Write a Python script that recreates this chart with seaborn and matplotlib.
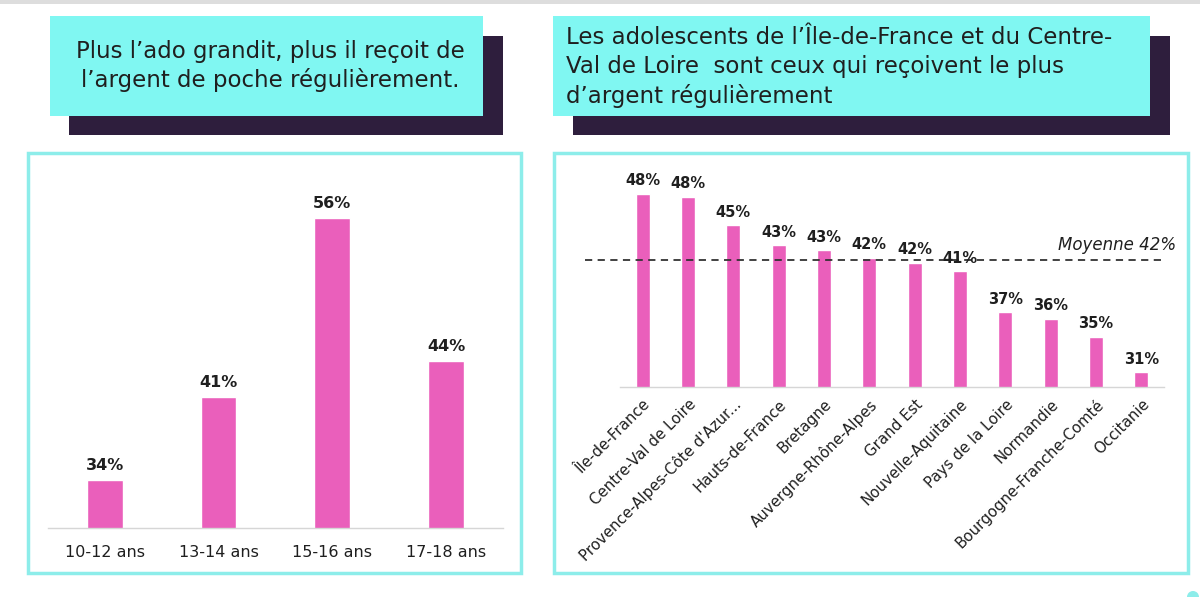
import matplotlib
matplotlib.use("Agg")
import matplotlib.pyplot as plt
import matplotlib.patches as patches
import matplotlib.transforms as mtransforms
import seaborn as sns

# Left panel: share of teens receiving pocket money regularly, by age
age_groups = ["10-12 ans", "13-14 ans", "15-16 ans", "17-18 ans"]
age_values = [34, 41, 56, 44]
age_labels = ["34%", "41%", "56%", "44%"]

# Right panel: same share by region
regions = ["Île-de-France", "Centre-Val de Loire", "Provence-Alpes-Côte d'Azur...",
           "Hauts-de-France", "Bretagne", "Auvergne-Rhône-Alpes", "Grand Est",
           "Nouvelle-Aquitaine", "Pays de la Loire", "Normandie",
           "Bourgogne-Franche-Comté", "Occitanie"]
region_values = [48.0, 47.7, 45.0, 43.1, 42.6, 41.9, 41.4, 40.6, 36.7, 36.1, 34.4, 31.0]
region_labels = ["48%", "48%", "45%", "43%", "43%", "42%", "42%", "41%", "37%", "36%", "35%", "31%"]
mean_value = 41.7
mean_label = "Moyenne 42%"

title_left = "Plus l’ado grandit, plus il reçoit de\nl’argent de poche régulièrement."
title_right = ("Les adolescents de l’Île-de-France et du Centre-\n"
               "Val de Loire  sont ceux qui reçoivent le plus\n"
               "d’argent régulièrement")

# Colours
pink = "#EA5FBB"
cyan_fill = "#80F7F2"
cyan_border = "#8DEDEA"
shadow = "#2E1E3D"
text_col = "#1F1F1F"

sns.set_theme(style="white")
plt.rcParams["font.family"] = ["DejaVu Sans"]

fig = plt.figure(figsize=(12, 5.97), dpi=100)
fig.patch.set_facecolor("white")

# Background layer in pixel coordinates for the boxes
bg = fig.add_axes([0, 0, 1, 1])
bg.set_xlim(0, 1200)
bg.set_ylim(597, 0)
bg.axis("off")

bg.add_patch(patches.Rectangle((0, 0), 1200, 4, color="#DDDDDD", lw=0))

# Title boxes with dark offset shadow
bg.add_patch(patches.Rectangle((69, 36), 434, 99, color=shadow, lw=0))
bg.add_patch(patches.Rectangle((50, 16), 433, 100, color=cyan_fill, lw=0))
bg.add_patch(patches.Rectangle((573, 36), 597, 99, color=shadow, lw=0))
bg.add_patch(patches.Rectangle((553, 16), 597, 100, color=cyan_fill, lw=0))

bg.text(270, 66, title_left, ha="center", va="center", fontsize=16.5,
        color=text_col, linespacing=1.3)
bg.text(566, 67, title_right, ha="left", va="center", fontsize=16.5,
        color=text_col, linespacing=1.3)

# Panel borders
bg.add_patch(patches.Rectangle((28, 153), 493, 420, fill=False, ec=cyan_border, lw=2.5))
bg.add_patch(patches.Rectangle((554, 153), 634, 420, fill=False, ec=cyan_border, lw=2.5))
bg.add_patch(patches.Circle((1193, 597), 6, color=cyan_border, lw=0))

# Left chart
ax1 = fig.add_axes([0.040, 0.1156, 0.379, 0.6164])
ax1.set_facecolor("none")
sns.barplot(x=age_groups, y=age_values, color=pink, saturation=1, width=0.315, ax=ax1)
ax1.bar_label(ax1.containers[0], labels=age_labels, padding=5, fontsize=11.5,
              fontweight="semibold", color=text_col)
ax1.set_ylim(30, 60.9)
ax1.set_xlim(-0.5, 3.5)

# Right chart
ax2 = fig.add_axes([0.5167, 0.3518, 0.4533, 0.380])
ax2.set_facecolor("none")
sns.barplot(x=regions, y=region_values, color=pink, saturation=1, width=0.31, ax=ax2)
ax2.bar_label(ax2.containers[0], labels=region_labels, padding=4, fontsize=10.5,
              fontweight="semibold", color=text_col)
ax2.set_ylim(29.6, 51.2)
ax2.set_xlim(-0.5, 11.5)

ax2.axhline(mean_value, xmin=-0.064, xmax=1.0, color="#333333", lw=1.3,
            dashes=(4, 3), clip_on=False)
trans = mtransforms.blended_transform_factory(ax2.transAxes, ax2.transData)
ax2.text(1.022, mean_value + 0.6, mean_label, transform=trans, ha="right", va="bottom",
         fontsize=12, style="italic", color=text_col)

for ax, size, pad in [(ax1, 11.5, 12), (ax2, 10.8, 7)]:
    sns.despine(ax=ax, left=True)
    ax.spines["bottom"].set_color("#D6D6D6")
    ax.spines["bottom"].set_linewidth(1)
    ax.set_yticks([])
    ax.set_xlabel("")
    ax.set_ylabel("")
    ax.tick_params(axis="x", length=0, pad=pad, labelsize=size, labelcolor=text_col)

plt.setp(ax2.get_xticklabels(), rotation=45, ha="right", rotation_mode="anchor")

fig.savefig("out.png", dpi=100, facecolor="white")
